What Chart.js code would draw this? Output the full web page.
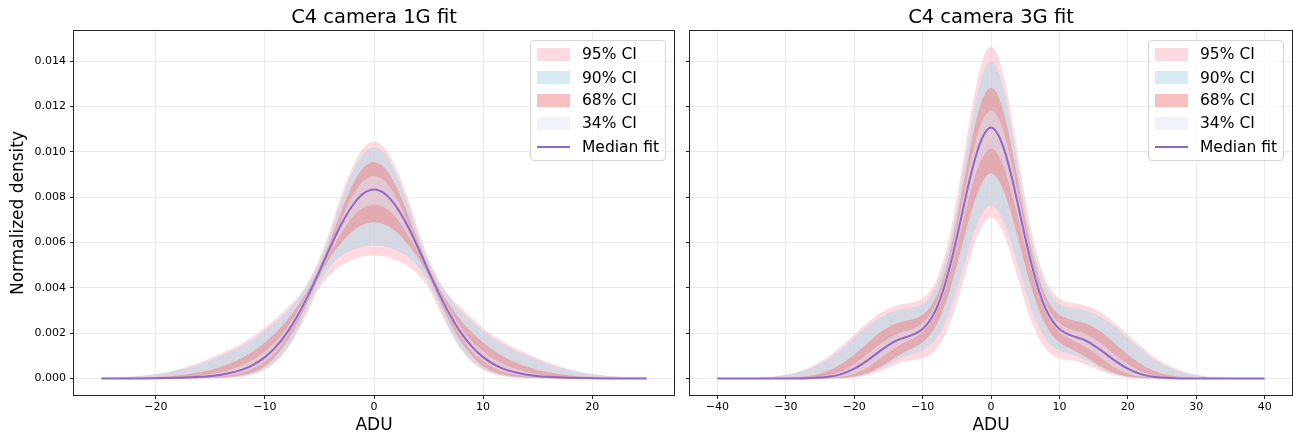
<!DOCTYPE html>
<html>
<head>
<meta charset="utf-8">
<script src="https://cdn.jsdelivr.net/npm/chart.js@4.4.1/dist/chart.umd.min.js"></script>
<style>
html,body{margin:0;padding:0;background:#fff}
#wrap{position:relative;width:1293px;height:437px;overflow:hidden;font-family:"DejaVu Sans",sans-serif}
canvas{position:absolute;top:0}
#c1{left:0}
#c2{left:682px}
.legend{position:absolute;top:40px;width:134px;height:119px;border:1px solid #d6d6d6;border-radius:4px;background:rgba(255,255,255,0.8)}
.legend .sw{position:absolute;left:6px;width:33px}
.legend .tx{position:absolute;left:51px;font-size:15.5px;line-height:18px;color:#000;white-space:nowrap}
</style>
</head>
<body>
<div id="wrap">
  <canvas id="c1" width="682" height="437"></canvas>
  <canvas id="c2" width="611" height="437"></canvas>
  <div class="legend" id="lg1" style="left:530px"></div>
  <div class="legend" id="lg2" style="left:1148px"></div>
</div>
<script>
// x grid (ADU)
const adu1G = [-25,-22,-20,-18,-16,-14,-12,-11,-10,-9,-8,-7,-6,-5,-4,-3,-2,-1,0,1,2,3,4,5,6,7,8,9,10,11,12,14,16,18,20,22,25];
const adu3G = [-40,-35,-32,-30,-28,-26,-24,-22,-20,-18,-16,-14,-13,-12,-11,-10,-9,-8,-7,-6,-5,-4,-3,-2,-1,0,1,2,3,4,5,6,7,8,9,10,11,12,13,14,16,18,20,22,24,26,28,30,32,35,40];

// 1G fit: band edges + median
const up95_1G = [0.00003,0.0001,0.0002,0.0004,0.0007,0.0011,0.00158,0.00188,0.00224,0.00265,0.0031,0.0036,0.0043,0.0053,0.0066,0.0081,0.0093,0.01015,0.01046,0.01015,0.0093,0.0081,0.0066,0.0053,0.0043,0.0036,0.0031,0.00265,0.00224,0.00188,0.00158,0.0011,0.0007,0.0004,0.0002,0.0001,0.00003];
const lo95_1G = [0,0,0,0,0,0.00002,0.00009,0.00019,0.00038,0.00072,0.00125,0.00205,0.003,0.004,0.0046,0.005,0.00522,0.00538,0.00543,0.00538,0.00522,0.005,0.0046,0.004,0.003,0.00205,0.00125,0.00072,0.00038,0.00019,0.00009,0.00002,0,0,0,0,0];
const up90_1G = [0.00002,0.00008,0.00017,0.00035,0.00062,0.001,0.00146,0.00175,0.0021,0.0025,0.00295,0.0035,0.0042,0.00515,0.0064,0.00785,0.00905,0.0099,0.0102,0.0099,0.00905,0.00785,0.0064,0.00515,0.0042,0.0035,0.00295,0.0025,0.0021,0.00175,0.00146,0.001,0.00062,0.00035,0.00017,0.00008,0.00002];
const lo90_1G = [0,0,0,0,0,0.00002,0.0001,0.00022,0.00042,0.00077,0.00133,0.00213,0.0032,0.0042,0.00495,0.0054,0.00566,0.00582,0.00587,0.00582,0.00566,0.0054,0.00495,0.0042,0.0032,0.00213,0.00133,0.00077,0.00042,0.00022,0.0001,0.00002,0,0,0,0,0];
const up68_1G = [0,0.00002,0.00006,0.00013,0.00027,0.00052,0.00093,0.00122,0.00158,0.00203,0.00255,0.0032,0.00395,0.00492,0.0061,0.00738,0.0085,0.00928,0.00954,0.00928,0.0085,0.00738,0.0061,0.00492,0.00395,0.0032,0.00255,0.00203,0.00158,0.00122,0.00093,0.00052,0.00027,0.00013,0.00006,0.00002,0];
const lo68_1G = [0,0,0,0,0.00001,0.00004,0.00015,0.00029,0.00054,0.00098,0.00162,0.00245,0.00345,0.00452,0.00535,0.00598,0.00648,0.00678,0.00689,0.00678,0.00648,0.00598,0.00535,0.00452,0.00345,0.00245,0.00162,0.00098,0.00054,0.00029,0.00015,0.00004,0.00001,0,0,0,0];
const up34_1G = [0,0,0.00002,0.00005,0.00012,0.00028,0.0006,0.00085,0.0012,0.00163,0.00222,0.00296,0.00382,0.00482,0.00588,0.007,0.00802,0.0087,0.00892,0.0087,0.00802,0.007,0.00588,0.00482,0.00382,0.00296,0.00222,0.00163,0.0012,0.00085,0.0006,0.00028,0.00012,0.00005,0.00002,0,0];
const lo34_1G = [0,0,0,0.00001,0.00003,0.00009,0.00027,0.00046,0.00076,0.00118,0.00182,0.00262,0.00358,0.00464,0.0056,0.0064,0.0071,0.00753,0.00768,0.00753,0.0071,0.0064,0.0056,0.00464,0.00358,0.00262,0.00182,0.00118,0.00076,0.00046,0.00027,0.00009,0.00003,0.00001,0,0,0];
const median_1G = [0,0,0.00001,0.00003,0.00007,0.00016,0.0004,0.00062,0.00094,0.00139,0.002,0.00278,0.0037,0.00473,0.0058,0.0068,0.00761,0.00815,0.00834,0.00815,0.00761,0.0068,0.0058,0.00473,0.0037,0.00278,0.002,0.00139,0.00094,0.00062,0.0004,0.00016,0.00007,0.00003,0.00001,0,0];

// 3G fit
const up95_3G = [0,0.00002,0.00008,0.00017,0.00032,0.00057,0.00093,0.0014,0.00194,0.00248,0.00292,0.0032,0.00327,0.00332,0.00339,0.00352,0.00381,0.00435,0.00519,0.0064,0.00796,0.00976,0.01158,0.01316,0.01425,0.01464,0.01425,0.01316,0.01158,0.00976,0.00796,0.0064,0.00519,0.00435,0.00381,0.00352,0.00339,0.00332,0.00327,0.0032,0.00292,0.00248,0.00194,0.0014,0.00093,0.00057,0.00032,0.00017,0.00008,0.00002,0];
const lo95_3G = [0,0,0,0,0,0,0,0.00001,0.00004,0.00014,0.00034,0.0006,0.00071,0.00078,0.00083,0.00089,0.00103,0.0013,0.00176,0.00245,0.00333,0.00435,0.00538,0.00627,0.00688,0.0071,0.00688,0.00627,0.00538,0.00435,0.00333,0.00245,0.00176,0.0013,0.00103,0.00089,0.00083,0.00078,0.00071,0.0006,0.00034,0.00014,0.00004,0.00001,0,0,0,0,0,0,0];
const up90_3G = [0,0.00001,0.00006,0.00014,0.00027,0.00048,0.00081,0.00126,0.00178,0.00231,0.00272,0.00299,0.00306,0.0031,0.00317,0.00329,0.00356,0.00407,0.00485,0.00602,0.00748,0.00922,0.011,0.01254,0.01361,0.01398,0.01361,0.01254,0.011,0.00922,0.00748,0.00602,0.00485,0.00407,0.00356,0.00329,0.00317,0.0031,0.00306,0.00299,0.00272,0.00231,0.00178,0.00126,0.00081,0.00048,0.00027,0.00014,0.00006,0.00001,0];
const lo90_3G = [0,0,0,0,0,0,0,0.00001,0.00006,0.0002,0.00046,0.00079,0.00093,0.00104,0.00112,0.00123,0.00142,0.00174,0.00227,0.003,0.00392,0.00493,0.00595,0.00682,0.0074,0.00764,0.0074,0.00682,0.00595,0.00493,0.00392,0.003,0.00227,0.00174,0.00142,0.00123,0.00112,0.00104,0.00093,0.00079,0.00046,0.0002,0.00006,0.00001,0,0,0,0,0,0,0];
const up68_3G = [0,0,0,0.00002,0.00006,0.00014,0.00032,0.00062,0.00106,0.00158,0.00207,0.00241,0.0025,0.00257,0.00266,0.00281,0.0031,0.00363,0.00445,0.00558,0.00702,0.00861,0.01021,0.01158,0.0125,0.01283,0.0125,0.01158,0.01021,0.00861,0.00702,0.00558,0.00445,0.00363,0.0031,0.00281,0.00266,0.00257,0.0025,0.00241,0.00207,0.00158,0.00106,0.00062,0.00032,0.00014,0.00006,0.00002,0,0,0];
const lo68_3G = [0,0,0,0,0,0,0,0.00002,0.00009,0.00025,0.00054,0.00093,0.00109,0.00125,0.0014,0.0016,0.0019,0.00236,0.00302,0.00391,0.00497,0.00612,0.00723,0.00816,0.00879,0.00905,0.00879,0.00816,0.00723,0.00612,0.00497,0.00391,0.00302,0.00236,0.0019,0.0016,0.0014,0.00125,0.00109,0.00093,0.00054,0.00025,0.00009,0.00002,0,0,0,0,0,0,0];
const up34_3G = [0,0,0,0,0.00001,0.00004,0.00013,0.00031,0.00064,0.00109,0.00156,0.00193,0.00205,0.00214,0.00225,0.00244,0.00278,0.00334,0.00416,0.00527,0.00661,0.00807,0.00951,0.01073,0.01154,0.01183,0.01154,0.01073,0.00951,0.00807,0.00661,0.00527,0.00416,0.00334,0.00278,0.00244,0.00225,0.00214,0.00205,0.00193,0.00156,0.00109,0.00064,0.00031,0.00013,0.00004,0.00001,0,0,0,0];
const lo34_3G = [0,0,0,0,0,0,0.00002,0.00007,0.00021,0.00049,0.00092,0.00135,0.00153,0.00168,0.00183,0.00205,0.00239,0.00291,0.00366,0.00464,0.0058,0.00704,0.00823,0.00922,0.00988,0.01015,0.00988,0.00922,0.00823,0.00704,0.0058,0.00464,0.00366,0.00291,0.00239,0.00205,0.00183,0.00168,0.00153,0.00135,0.00092,0.00049,0.00021,0.00007,0.00002,0,0,0,0,0,0];
const median_3G = [0,0,0,0,0,0.00002,0.00006,0.00018,0.00043,0.00081,0.00126,0.00165,0.00177,0.00187,0.00199,0.00218,0.00253,0.00307,0.00388,0.00495,0.00621,0.00759,0.00892,0.01003,0.01077,0.01107,0.01077,0.01003,0.00892,0.00759,0.00621,0.00495,0.00388,0.00307,0.00253,0.00218,0.00199,0.00187,0.00177,0.00165,0.00126,0.00081,0.00043,0.00018,0.00006,0.00002,0,0,0,0,0];

// ticks
const xTicks1G = [-20,-10,0,10,20];
const xTicks3G = [-40,-30,-20,-10,0,10,20,30,40];
const yTicks = [0,0.002,0.004,0.006,0.008,0.010,0.012,0.014];

const legendLabels = ['95% CI','90% CI','68% CI','34% CI','Median fit'];
const bandColors = ['rgba(255,192,203,0.6)','rgba(173,216,230,0.5)','rgba(240,128,128,0.5)','rgba(230,230,250,0.5)'];
const medianColor = '#9066c6';

const FONT = '"DejaVu Sans", sans-serif';

function pts(xs, ys){ return xs.map((x,i)=>({x:x, y:ys[i]})); }

function buildSets(xs, bands, med){
  const sets = [];
  bands.forEach((b,i)=>{
    const order = 4 - i;
    sets.push({data:pts(xs,b[0]), fill:'+1', backgroundColor:bandColors[i], borderColor:'transparent', borderWidth:0, pointRadius:0, order:order, cubicInterpolationMode:'monotone'});
    sets.push({data:pts(xs,b[1]), fill:false, borderColor:'transparent', borderWidth:0, pointRadius:0, order:order, cubicInterpolationMode:'monotone'});
  });
  sets.push({data:pts(xs,med), fill:false, borderColor:medianColor, borderWidth:2, pointRadius:0, order:0, cubicInterpolationMode:'monotone'});
  return sets;
}

const spines = {
  id:'spines',
  afterDraw(chart){
    const {ctx, chartArea:a} = chart;
    ctx.save();
    ctx.strokeStyle = '#262626';
    ctx.lineWidth = 1;
    ctx.strokeRect(Math.round(a.left)-0.5, Math.round(a.top)-0.5, Math.round(a.right-a.left)+1, Math.round(a.bottom-a.top)+1);
    ctx.restore();
  }
};

const gridOpts = {color:'rgba(176,176,176,0.33)', lineWidth:0.8, tickColor:'#262626', tickLength:4, tickWidth:1};

function fmtX(v){ return v < 0 ? '\u2212' + Math.abs(v) : String(v); }

function makeChart(id, title, xs, bands, med, xr, xt, showY){
  const opts = {
    responsive:false, animation:false, devicePixelRatio:1,
    layout:{padding:{left:0, right: showY ? 8 : 1, top:0, bottom:0}},
    plugins:{
      legend:{display:false}, tooltip:{enabled:false},
      title:{display:true, text:title, color:'#000', fullSize:false, font:{family:FONT, size:19.5, weight:'normal'}, padding:{top:6, bottom:1.6}}
    },
    scales:{
      x:{type:'linear', min:-xr, max:xr,
        afterBuildTicks: s => { s.ticks = xt.map(v=>({value:v})); },
        afterFit: s => { s.height = 42; },
        grid:gridOpts, border:{display:false},
        ticks:{color:'#000', font:{family:FONT, size:11}, padding:2, maxRotation:0, autoSkip:false, callback:v=>fmtX(v)},
        title:{display:true, text:'ADU', color:'#000', font:{family:FONT, size:17}, padding:{top:0, bottom:1}}
      },
      y:{type:'linear', min:-0.00073, max:0.01533,
        afterBuildTicks: s => { s.ticks = yTicks.map(v=>({value:v})); },
        afterFit: s => { s.width = showY ? 74 : 8; },
        grid:gridOpts, border:{display:false},
        ticks:{display:showY, color:'#000', font:{family:FONT, size:11}, padding:4, callback:v=>v.toFixed(3)},
        title:{display:showY, text:'Normalized density', color:'#000', font:{family:FONT, size:17}, padding:{top:8, bottom:0}}
      }
    }
  };
  return new Chart(document.getElementById(id), {type:'line', data:{datasets:buildSets(xs,bands,med)}, options:opts, plugins:[spines]});
}

makeChart('c1','C4 camera 1G fit', adu1G,
  [[up95_1G,lo95_1G],[up90_1G,lo90_1G],[up68_1G,lo68_1G],[up34_1G,lo34_1G]], median_1G, 27.5, xTicks1G, true);
makeChart('c2','C4 camera 3G fit', adu3G,
  [[up95_3G,lo95_3G],[up90_3G,lo90_3G],[up68_3G,lo68_3G],[up34_3G,lo34_3G]], median_3G, 44, xTicks3G, false);

// legends
const rowY = [13.3, 36.7, 59, 82.3, 106];
function buildLegend(id){
  const box = document.getElementById(id);
  legendLabels.forEach((lab,i)=>{
    const sw = document.createElement('div');
    sw.className = 'sw';
    if(i < 4){
      sw.style.top = (rowY[i]-6.5) + 'px';
      sw.style.height = '13px';
      sw.style.background = bandColors[i];
    } else {
      sw.style.top = (rowY[i]-1) + 'px';
      sw.style.height = '2px';
      sw.style.background = medianColor;
    }
    box.appendChild(sw);
    const tx = document.createElement('div');
    tx.className = 'tx';
    tx.style.top = (rowY[i]-9) + 'px';
    tx.textContent = lab;
    box.appendChild(tx);
  });
}
buildLegend('lg1');
buildLegend('lg2');
</script>
</body>
</html>
